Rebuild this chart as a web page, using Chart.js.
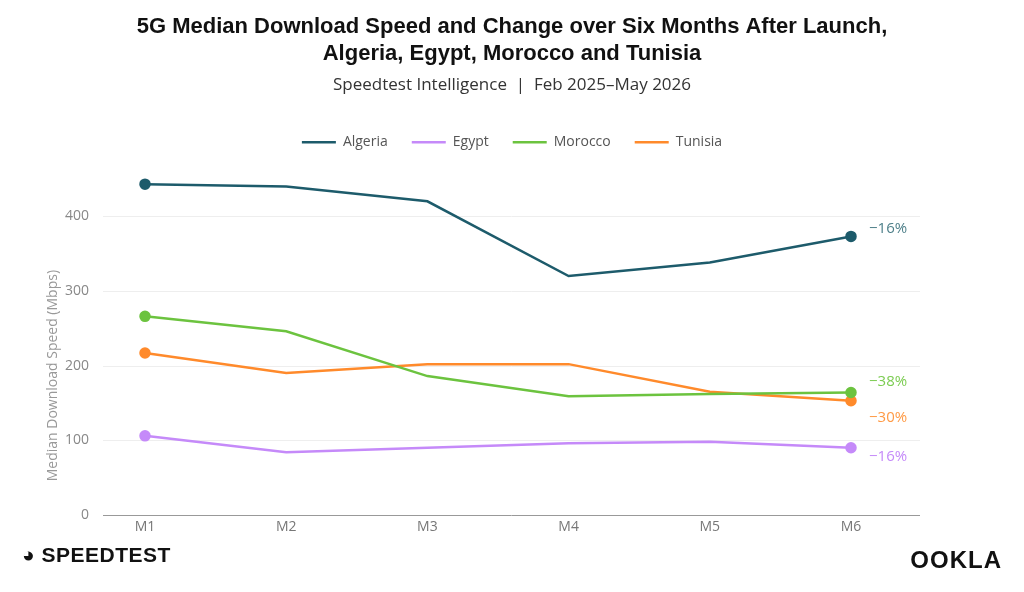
<!DOCTYPE html>
<html>
<head>
<meta charset="utf-8">
<script src="https://cdn.jsdelivr.net/npm/chart.js@4"></script>
<style>
  body { margin: 0; background: #fff; }
  #wrap { position: relative; width: 1024px; height: 592px; }
  .logo { position: absolute; font-family: "Liberation Sans", sans-serif; font-weight: bold; color: #111; }
</style>
</head>
<body>
<div id="wrap">
  <canvas id="chart" width="1024" height="592"></canvas>
  <div class="logo" style="left:22px;top:543px;font-size:21px;letter-spacing:0.5px;">&#9685; SPEEDTEST</div>
  <div class="logo" style="right:22px;top:546px;font-size:24px;letter-spacing:1px;">OOKLA</div>
</div>
<script>
var months = ['M1', 'M2', 'M3', 'M4', 'M5', 'M6'];
var algeria = [443, 440, 420, 320, 338, 373];
var egypt = [106, 84, 90, 96, 98, 90];
var morocco = [266, 246, 186, 159, 162, 164];
var tunisia = [217, 190, 202, 202, 165, 153];
var changes = ['\u221216%', '\u221216%', '\u221238%', '\u221230%'];
var labelShift = [-8, 9, -11, 17]; // nudge so end labels don't overlap

var colors = ['#1d5b6b', '#c58af9', '#6cc33f', '#ff8a2b'];
var labelColors = ['#4d7f89', '#c58af9', '#7ccc52', '#ff9a45'];
var series = [['Algeria', algeria], ['Egypt', egypt], ['Morocco', morocco], ['Tunisia', tunisia]];
var font = '"Open Sans", sans-serif';

// wider grid, x labels close to the axis, y title and end-of-line labels
var extras = {
    id: 'extras',
    beforeInit: function (chart) {
        var fit = chart.legend.fit;
        chart.legend.fit = function () { fit.call(this); this.height += 16; };
    },
    beforeDatasetsDraw: function (chart) {
        var ctx = chart.ctx, y = chart.scales.y, x = chart.scales.x;
        ctx.save();
        y.ticks.forEach(function (t) {
            var py = Math.round(y.getPixelForValue(t.value)) + 0.5;
            ctx.strokeStyle = t.value == 0 ? '#999' : '#eeeeee';
            ctx.lineWidth = 1;
            ctx.beginPath(); ctx.moveTo(103, py); ctx.lineTo(920, py); ctx.stroke();
        });
        ctx.fillStyle = '#777';
        ctx.font = '14px ' + font;
        ctx.textAlign = 'center';
        ctx.textBaseline = 'middle';
        months.forEach(function (m, i) {
            ctx.fillText(m, x.getPixelForValue(i), y.getPixelForValue(0) + 12);
        });
        ctx.translate(53, (y.getPixelForValue(0) + y.getPixelForValue(400)) / 2 + 10);
        ctx.rotate(-Math.PI / 2);
        ctx.fillStyle = '#999';
        ctx.fillText('Median Download Speed (Mbps)', 0, 0);
        ctx.restore();
    },
    afterDatasetsDraw: function (chart) {
        var ctx = chart.ctx;
        ctx.save();
        ctx.font = '15px ' + font;
        ctx.textBaseline = 'middle';
        chart.data.datasets.forEach(function (ds, i) {
            var pts = chart.getDatasetMeta(i).data;
            var p = pts[pts.length - 1];
            ctx.fillStyle = labelColors[i];
            ctx.fillText(changes[i], p.x + 18, p.y + labelShift[i]);
        });
        ctx.restore();
    }
};

new Chart(document.getElementById('chart').getContext('2d'), {
    type: 'line',
    data: {
        labels: months,
        datasets: series.map(function (s, i) {
            return {
                label: s[0],
                data: s[1],
                borderColor: colors[i],
                backgroundColor: colors[i],
                borderWidth: 2.5,
                tension: 0,
                clip: false,
                pointRadius: function (c) { return (c.dataIndex == 0 || c.dataIndex == 5) ? 4.5 : 0; },
                pointHoverRadius: 4.5
            };
        })
    },
    options: {
        responsive: false,
        animation: false,
        layout: { padding: { left: 0, right: 0, top: 0, bottom: 69 } },
        plugins: {
            title: {
                display: true,
                text: ['5G Median Download Speed and Change over Six Months After Launch,', 'Algeria, Egypt, Morocco and Tunisia'],
                color: '#111',
                font: { family: '"Liberation Sans Narrow", "Liberation Sans", sans-serif', size: 22, weight: 'bold' },
                padding: { top: 14, bottom: 8 }
            },
            subtitle: {
                display: true,
                text: 'Speedtest Intelligence  |  Feb 2025\u2013May 2026',
                color: '#333',
                font: { family: font, size: 17 },
                padding: { bottom: 16 }
            },
            legend: {
                labels: {
                    usePointStyle: true,
                    pointStyle: 'line',
                    pointStyleWidth: 34,
                    color: '#555',
                    padding: 24,
                    font: { family: font, size: 14 }
                }
            },
            tooltip: { enabled: false }
        },
        scales: {
            x: {
                offset: false,
                grid: { display: false },
                border: { display: false },
                ticks: { display: false }
            },
            y: {
                min: 0,
                max: 455,
                afterBuildTicks: function (scale) {
                    scale.ticks = scale.ticks.filter(function (t) { return t.value <= 400; });
                },
                afterFit: function (scale) { scale.width = 145; },
                ticks: { stepSize: 100, color: '#888', padding: 48, font: { family: font, size: 14 } },
                grid: { display: false },
                border: { display: false }
            },
            // empty right axis, only reserves room for the end labels
            y2: {
                position: 'right',
                min: 0,
                max: 455,
                afterFit: function (scale) { scale.width = 173; },
                ticks: { display: false },
                grid: { display: false },
                border: { display: false }
            }
        }
    },
    plugins: [extras]
});
</script>
</body>
</html>
